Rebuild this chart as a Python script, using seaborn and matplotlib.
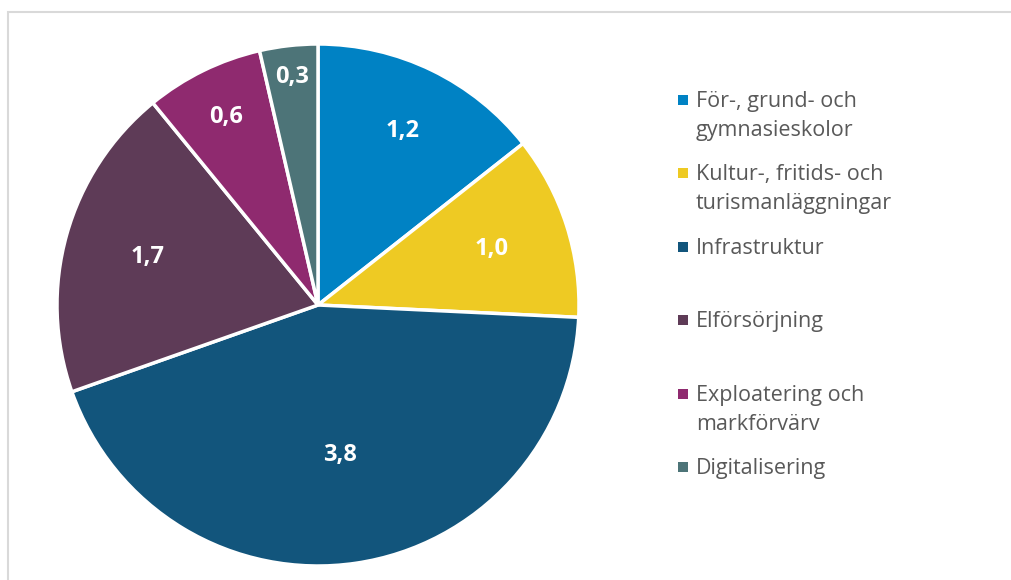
import matplotlib
matplotlib.use("Agg")
import matplotlib.pyplot as plt
from matplotlib.patches import Rectangle
import numpy as np
import seaborn as sns

# data (unrounded estimates; labels are as printed)
categories = ["För-, grund- och\ngymnasieskolor",
              "Kultur-, fritids- och\nturismanläggningar",
              "Infrastruktur",
              "Elförsörjning",
              "Exploatering och\nmarkförvärv",
              "Digitalisering"]
values = [1.24, 0.98, 3.78, 1.68, 0.63, 0.31]
value_labels = ["1,2", "1,0", "3,8", "1,7", "0,6", "0,3"]
colors = ["#0082C4", "#EECA23", "#12557C", "#5E3B57", "#8F2A6F", "#4D7478"]

sns.set_theme(style="white")
plt.rcParams["font.family"] = ["Open Sans", "DejaVu Sans"]
palette = sns.color_palette(colors)

W, H = 1011, 580
fig = plt.figure(figsize=(W / 100, H / 100), dpi=100)

# pie axes: center ~ (318, 305) px, radius ~261 px
cx, cy, r = 318, 305, 261
ax = fig.add_axes([(cx - r) / W, (H - cy - r) / H, 2 * r / W, 2 * r / H])
wedges, _ = ax.pie(values, colors=palette, startangle=90, counterclock=False,
                   wedgeprops=dict(edgecolor="white", linewidth=2.5))
ax.set_aspect("equal")
ax.set_xlim(-1, 1)
ax.set_ylim(-1, 1)
ax.axis("off")

# per-wedge label distance (Excel best-fit style)
label_r = [0.74, 0.70, 0.58, 0.68, 0.80, 0.88]
for w, lab, lr in zip(wedges, value_labels, label_r):
    mid = np.deg2rad((w.theta1 + w.theta2) / 2)
    ax.text(lr * np.cos(mid), lr * np.sin(mid), lab, color="white",
            fontsize=17, fontweight="bold", ha="center", va="center")

# manual legend (marker aligned with first line)
leg_x, leg_y0, leg_step, line_h = 696, 100, 73.4, 29
for i, (cat, col) in enumerate(zip(categories, palette)):
    y = leg_y0 + i * leg_step
    fig.add_artist(Rectangle(((leg_x - 18) / W, (H - y - 5) / H), 10 / W, 10 / H,
                             transform=fig.transFigure, color=col, lw=0))
    for j, line in enumerate(cat.split("\n")):
        fig.text(leg_x / W, (H - y - 7 - j * line_h) / H, line, fontsize=15.5,
                 color="#595959", ha="left", va="baseline",
                 transform=fig.transFigure)

# light frame (top and left edges visible)
fig.add_artist(Rectangle((8 / W, -0.1), 1.2, (H - 12) / H + 0.1, fill=False,
                         ec="#D9D9D9", lw=1.5, transform=fig.transFigure))

fig.savefig("out.png", dpi=100)
